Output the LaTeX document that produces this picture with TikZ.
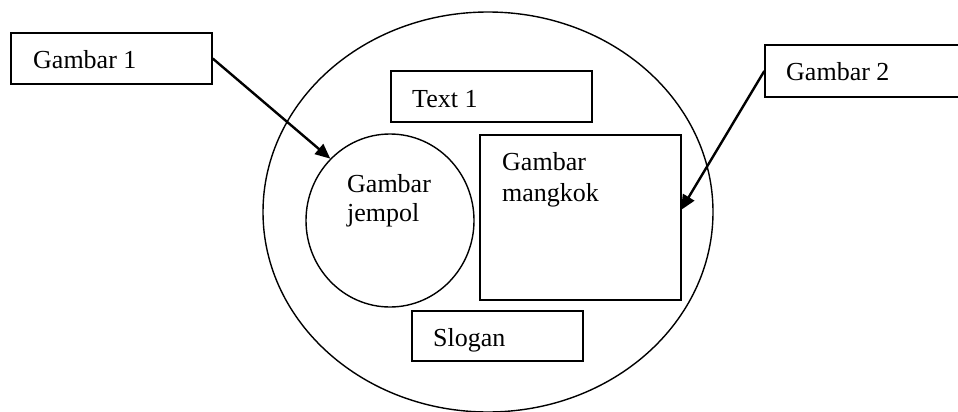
\documentclass[tikz,border=0pt]{standalone}
\usepackage{fontspec}
\setmainfont{Liberation Serif}
\usetikzlibrary{shapes.geometric,arrows.meta}
\begin{document}
\begin{tikzpicture}[x=1pt,y=-1pt,
  outl/.style={draw,line width=1.4pt,inner sep=0pt},
  boxshape/.style={outl,rectangle},
  lbl/.style={anchor=base west,inner sep=0pt,font=\fontsize{26}{30}\selectfont},
  pointer/.style={line width=2.4pt,-{Triangle[length=15pt,width=13pt]}}]
\useasboundingbox (0,0) rectangle (958,412);
\node[outl,ellipse,minimum width=450pt,minimum height=400pt] (outer) at (488,212) {};
\node[outl,ellipse,minimum width=168pt,minimum height=173pt] (jempol) at (390,220.5) {};
\node[boxshape,minimum width=201pt,minimum height=165pt] (mangkok) at (580.5,217.5) {};
\node[boxshape,minimum width=201pt,minimum height=51pt] (g1) at (111.5,58.5) {};
\node[boxshape,minimum width=201pt,minimum height=51pt] (t1) at (491.5,96.5) {};
\node[boxshape,minimum width=201pt,minimum height=52pt] (g2) at (865.5,71) {};
\node[boxshape,minimum width=171pt,minimum height=50pt] (slogan) at (497.5,336) {};
\node[lbl] (g1t) at (33,68) {Gambar 1};
\node[lbl] (t1t) at (412,107) {Text 1};
\node[lbl] (g2t) at (786,81) {Gambar 2};
\node[lbl] (slt) at (433,346) {Slogan};
\node[lbl] (jt1) at (347,192) {Gambar};
\node[lbl] (jt2) at (347,221) {jempol};
\node[lbl] (mt1) at (502,170) {Gambar};
\node[lbl] (mt2) at (502,201) {mangkok};
\coordinate (tip2) at (681,210);
\draw[pointer] (g1.east) -- (jempol.134);
\draw[pointer] (g2.west) -- (tip2);
\end{tikzpicture}
\end{document}
